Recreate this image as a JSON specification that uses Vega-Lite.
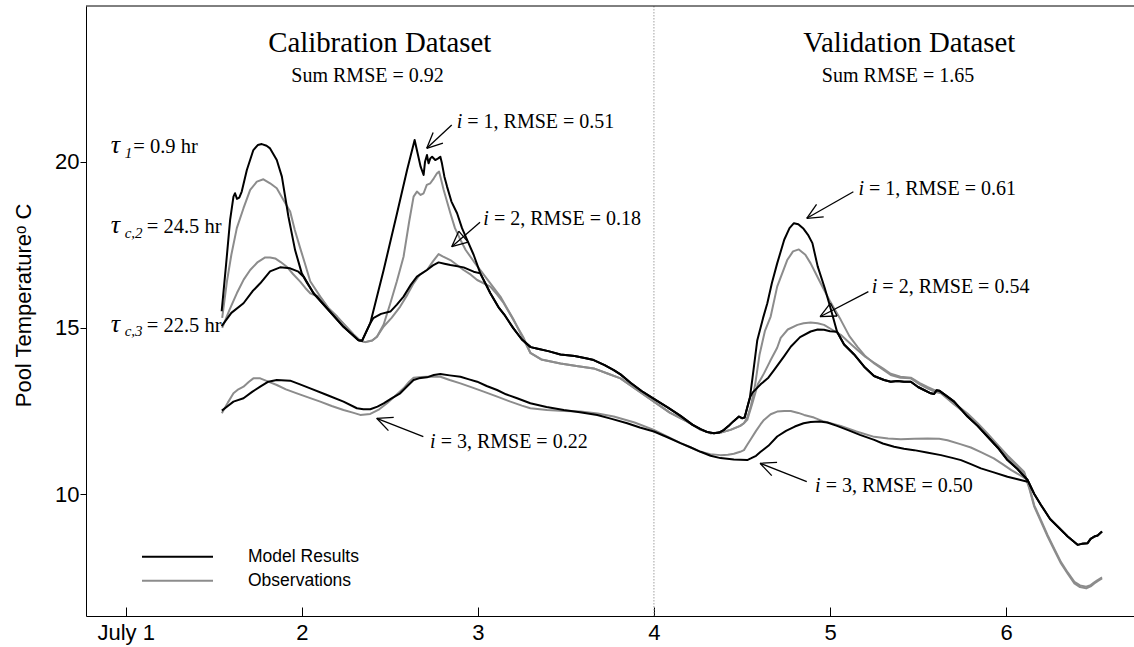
{
  "$schema": "https://vega.github.io/schema/vega-lite/v6.json",
  "width": 1048,
  "height": 610,
  "autosize": {"type": "none"},
  "padding": {"left": 86, "top": 6, "right": 0, "bottom": 31},
  "background": "white",
  "config": {"view": {"stroke": null}, "font": "Liberation Sans"},
  "datasets": {
    "model": [
      {"r":1,"d":1.545,"t":15.5},{"r":1,"d":1.57,"t":16.9},{"r":1,"d":1.593,"t":18.25},{"r":1,"d":1.612,"t":18.95},{"r":1,"d":1.621,"t":19.05},{"r":1,"d":1.632,"t":18.88},{"r":1,"d":1.645,"t":18.92},{"r":1,"d":1.659,"t":19.1},{"r":1,"d":1.688,"t":19.75},{"r":1,"d":1.725,"t":20.35},{"r":1,"d":1.75,"t":20.5},{"r":1,"d":1.773,"t":20.53},{"r":1,"d":1.8,"t":20.48},{"r":1,"d":1.82,"t":20.4},{"r":1,"d":1.858,"t":20.05},{"r":1,"d":1.887,"t":19.55},{"r":1,"d":1.924,"t":18.35},{"r":1,"d":1.962,"t":17.34},{"r":1,"d":2.0,"t":16.64},{"r":1,"d":2.067,"t":16.04},{"r":1,"d":2.143,"t":15.59},{"r":1,"d":2.237,"t":15.03},{"r":1,"d":2.322,"t":14.63},{"r":1,"d":2.342,"t":14.61},{"r":1,"d":2.389,"t":15.14},{"r":1,"d":2.465,"t":16.74},{"r":1,"d":2.541,"t":18.45},{"r":1,"d":2.598,"t":19.75},{"r":1,"d":2.641,"t":20.65},{"r":1,"d":2.66,"t":20.2},{"r":1,"d":2.675,"t":19.85},{"r":1,"d":2.692,"t":19.6},{"r":1,"d":2.7,"t":20.0},{"r":1,"d":2.711,"t":20.2},{"r":1,"d":2.72,"t":19.95},{"r":1,"d":2.73,"t":20.1},{"r":1,"d":2.74,"t":20.15},{"r":1,"d":2.758,"t":20.05},{"r":1,"d":2.775,"t":20.1},{"r":1,"d":2.787,"t":20.15},{"r":1,"d":2.796,"t":19.95},{"r":1,"d":2.81,"t":19.55},{"r":1,"d":2.825,"t":19.25},{"r":1,"d":2.85,"t":18.8},{"r":1,"d":2.882,"t":18.45},{"r":1,"d":2.91,"t":18.0},{"r":1,"d":2.939,"t":17.65},{"r":1,"d":2.976,"t":17.2},{"r":1,"d":3.014,"t":16.64},{"r":1,"d":3.071,"t":16.04},{"r":1,"d":3.12,"t":15.6},{"r":1,"d":3.15,"t":15.4},{"r":1,"d":3.2,"t":15.0},{"r":1,"d":3.25,"t":14.65},{"r":1,"d":3.3,"t":14.42},{"r":1,"d":3.34,"t":14.37},{"r":1,"d":3.4,"t":14.3},{"r":1,"d":3.469,"t":14.2},{"r":1,"d":3.55,"t":14.15},{"r":1,"d":3.62,"t":14.08},{"r":1,"d":3.658,"t":14.03},{"r":1,"d":3.72,"t":13.88},{"r":1,"d":3.772,"t":13.73},{"r":1,"d":3.81,"t":13.6},{"r":1,"d":3.867,"t":13.35},{"r":1,"d":3.93,"t":13.1},{"r":1,"d":4.0,"t":12.86},{"r":1,"d":4.08,"t":12.6},{"r":1,"d":4.151,"t":12.35},{"r":1,"d":4.22,"t":12.08},{"r":1,"d":4.265,"t":11.95},{"r":1,"d":4.3,"t":11.87},{"r":1,"d":4.341,"t":11.83},{"r":1,"d":4.37,"t":11.85},{"r":1,"d":4.398,"t":11.93},{"r":1,"d":4.43,"t":12.08},{"r":1,"d":4.454,"t":12.2},{"r":1,"d":4.483,"t":12.33},{"r":1,"d":4.5,"t":12.28},{"r":1,"d":4.515,"t":12.3},{"r":1,"d":4.53,"t":12.6},{"r":1,"d":4.545,"t":12.9},{"r":1,"d":4.56,"t":13.5},{"r":1,"d":4.587,"t":14.63},{"r":1,"d":4.62,"t":15.3},{"r":1,"d":4.644,"t":15.74},{"r":1,"d":4.67,"t":16.35},{"r":1,"d":4.7,"t":16.94},{"r":1,"d":4.74,"t":17.65},{"r":1,"d":4.77,"t":18.0},{"r":1,"d":4.795,"t":18.15},{"r":1,"d":4.82,"t":18.12},{"r":1,"d":4.85,"t":17.98},{"r":1,"d":4.875,"t":17.8},{"r":1,"d":4.9,"t":17.55},{"r":1,"d":4.93,"t":16.85},{"r":1,"d":4.97,"t":16.2},{"r":1,"d":5.0,"t":15.65},{"r":1,"d":5.04,"t":14.88},{"r":1,"d":5.08,"t":14.5},{"r":1,"d":5.137,"t":14.2},{"r":1,"d":5.194,"t":13.83},{"r":1,"d":5.25,"t":13.55},{"r":1,"d":5.307,"t":13.43},{"r":1,"d":5.345,"t":13.38},{"r":1,"d":5.383,"t":13.4},{"r":1,"d":5.42,"t":13.38},{"r":1,"d":5.459,"t":13.38},{"r":1,"d":5.5,"t":13.22},{"r":1,"d":5.534,"t":13.13},{"r":1,"d":5.572,"t":13.03},{"r":1,"d":5.591,"t":13.01},{"r":1,"d":5.605,"t":13.12},{"r":1,"d":5.62,"t":13.11},{"r":1,"d":5.667,"t":12.93},{"r":1,"d":5.705,"t":12.78},{"r":1,"d":5.781,"t":12.33},{"r":1,"d":5.838,"t":12.05},{"r":1,"d":5.894,"t":11.73},{"r":1,"d":5.952,"t":11.4},{"r":1,"d":6.008,"t":11.02},{"r":1,"d":6.065,"t":10.75},{"r":1,"d":6.122,"t":10.42},{"r":1,"d":6.16,"t":10.0},{"r":1,"d":6.198,"t":9.67},{"r":1,"d":6.25,"t":9.25},{"r":1,"d":6.293,"t":9.02},{"r":1,"d":6.35,"t":8.72},{"r":1,"d":6.406,"t":8.47},{"r":1,"d":6.43,"t":8.5},{"r":1,"d":6.463,"t":8.52},{"r":1,"d":6.48,"t":8.65},{"r":1,"d":6.501,"t":8.72},{"r":1,"d":6.52,"t":8.75},{"r":1,"d":6.545,"t":8.87},

      {"r":2,"d":1.545,"t":15.05},{"r":2,"d":1.6,"t":15.45},{"r":2,"d":1.669,"t":15.74},{"r":2,"d":1.72,"t":16.1},{"r":2,"d":1.764,"t":16.34},{"r":2,"d":1.82,"t":16.7},{"r":2,"d":1.877,"t":16.82},{"r":2,"d":1.934,"t":16.79},{"r":2,"d":1.981,"t":16.69},{"r":2,"d":2.01,"t":16.54},{"r":2,"d":2.03,"t":16.35},{"r":2,"d":2.067,"t":16.04},{"r":2,"d":2.143,"t":15.59},{"r":2,"d":2.237,"t":15.03},{"r":2,"d":2.322,"t":14.63},{"r":2,"d":2.342,"t":14.61},{"r":2,"d":2.389,"t":15.14},{"r":2,"d":2.406,"t":15.29},{"r":2,"d":2.45,"t":15.42},{"r":2,"d":2.503,"t":15.49},{"r":2,"d":2.54,"t":15.7},{"r":2,"d":2.578,"t":15.94},{"r":2,"d":2.62,"t":16.3},{"r":2,"d":2.654,"t":16.54},{"r":2,"d":2.711,"t":16.74},{"r":2,"d":2.745,"t":16.88},{"r":2,"d":2.777,"t":16.97},{"r":2,"d":2.81,"t":16.93},{"r":2,"d":2.844,"t":16.89},{"r":2,"d":2.919,"t":16.82},{"r":2,"d":2.976,"t":16.69},{"r":2,"d":3.014,"t":16.64},{"r":2,"d":3.071,"t":16.04},{"r":2,"d":3.12,"t":15.6},{"r":2,"d":3.15,"t":15.4},{"r":2,"d":3.2,"t":15.0},{"r":2,"d":3.25,"t":14.65},{"r":2,"d":3.3,"t":14.42},{"r":2,"d":3.34,"t":14.37},{"r":2,"d":3.4,"t":14.3},{"r":2,"d":3.469,"t":14.2},{"r":2,"d":3.55,"t":14.15},{"r":2,"d":3.62,"t":14.08},{"r":2,"d":3.658,"t":14.03},{"r":2,"d":3.72,"t":13.88},{"r":2,"d":3.772,"t":13.73},{"r":2,"d":3.81,"t":13.6},{"r":2,"d":3.867,"t":13.35},{"r":2,"d":3.93,"t":13.1},{"r":2,"d":4.0,"t":12.86},{"r":2,"d":4.08,"t":12.6},{"r":2,"d":4.151,"t":12.35},{"r":2,"d":4.22,"t":12.08},{"r":2,"d":4.265,"t":11.95},{"r":2,"d":4.3,"t":11.87},{"r":2,"d":4.341,"t":11.83},{"r":2,"d":4.37,"t":11.85},{"r":2,"d":4.398,"t":11.93},{"r":2,"d":4.43,"t":12.08},{"r":2,"d":4.454,"t":12.2},{"r":2,"d":4.483,"t":12.33},{"r":2,"d":4.5,"t":12.28},{"r":2,"d":4.515,"t":12.3},{"r":2,"d":4.53,"t":12.6},{"r":2,"d":4.545,"t":12.9},{"r":2,"d":4.56,"t":13.05},{"r":2,"d":4.606,"t":13.3},{"r":2,"d":4.65,"t":13.5},{"r":2,"d":4.682,"t":13.73},{"r":2,"d":4.74,"t":14.15},{"r":2,"d":4.777,"t":14.43},{"r":2,"d":4.83,"t":14.72},{"r":2,"d":4.89,"t":14.89},{"r":2,"d":4.93,"t":14.95},{"r":2,"d":4.966,"t":14.94},{"r":2,"d":5.0,"t":14.9},{"r":2,"d":5.04,"t":14.88},{"r":2,"d":5.08,"t":14.5},{"r":2,"d":5.137,"t":14.2},{"r":2,"d":5.194,"t":13.83},{"r":2,"d":5.25,"t":13.55},{"r":2,"d":5.307,"t":13.43},{"r":2,"d":5.345,"t":13.38},{"r":2,"d":5.383,"t":13.4},{"r":2,"d":5.42,"t":13.38},{"r":2,"d":5.459,"t":13.38},{"r":2,"d":5.5,"t":13.22},{"r":2,"d":5.534,"t":13.13},{"r":2,"d":5.572,"t":13.03},{"r":2,"d":5.591,"t":13.01},{"r":2,"d":5.605,"t":13.12},{"r":2,"d":5.62,"t":13.11},{"r":2,"d":5.667,"t":12.93},{"r":2,"d":5.705,"t":12.78},{"r":2,"d":5.781,"t":12.33},{"r":2,"d":5.838,"t":12.05},{"r":2,"d":5.894,"t":11.73},{"r":2,"d":5.952,"t":11.4},{"r":2,"d":6.008,"t":11.02},{"r":2,"d":6.065,"t":10.75},{"r":2,"d":6.122,"t":10.42},{"r":2,"d":6.16,"t":10.0},{"r":2,"d":6.198,"t":9.67},{"r":2,"d":6.25,"t":9.25},{"r":2,"d":6.293,"t":9.02},{"r":2,"d":6.35,"t":8.72},{"r":2,"d":6.406,"t":8.47},{"r":2,"d":6.43,"t":8.5},{"r":2,"d":6.463,"t":8.52},{"r":2,"d":6.48,"t":8.65},{"r":2,"d":6.501,"t":8.72},{"r":2,"d":6.52,"t":8.75},{"r":2,"d":6.545,"t":8.87},

      {"r":3,"d":1.546,"t":12.51},{"r":3,"d":1.58,"t":12.65},{"r":3,"d":1.612,"t":12.78},{"r":3,"d":1.669,"t":12.88},{"r":3,"d":1.72,"t":13.08},{"r":3,"d":1.764,"t":13.23},{"r":3,"d":1.81,"t":13.38},{"r":3,"d":1.858,"t":13.43},{"r":3,"d":1.934,"t":13.41},{"r":3,"d":1.99,"t":13.3},{"r":3,"d":2.048,"t":13.18},{"r":3,"d":2.143,"t":12.98},{"r":3,"d":2.237,"t":12.78},{"r":3,"d":2.313,"t":12.58},{"r":3,"d":2.35,"t":12.55},{"r":3,"d":2.389,"t":12.55},{"r":3,"d":2.43,"t":12.63},{"r":3,"d":2.465,"t":12.73},{"r":3,"d":2.51,"t":12.88},{"r":3,"d":2.559,"t":13.03},{"r":3,"d":2.6,"t":13.25},{"r":3,"d":2.635,"t":13.43},{"r":3,"d":2.665,"t":13.48},{"r":3,"d":2.711,"t":13.51},{"r":3,"d":2.75,"t":13.58},{"r":3,"d":2.787,"t":13.61},{"r":3,"d":2.84,"t":13.57},{"r":3,"d":2.901,"t":13.53},{"r":3,"d":2.95,"t":13.45},{"r":3,"d":2.996,"t":13.38},{"r":3,"d":3.05,"t":13.25},{"r":3,"d":3.109,"t":13.13},{"r":3,"d":3.16,"t":13.0},{"r":3,"d":3.223,"t":12.88},{"r":3,"d":3.298,"t":12.73},{"r":3,"d":3.39,"t":12.62},{"r":3,"d":3.488,"t":12.53},{"r":3,"d":3.58,"t":12.46},{"r":3,"d":3.678,"t":12.38},{"r":3,"d":3.76,"t":12.26},{"r":3,"d":3.848,"t":12.13},{"r":3,"d":3.92,"t":12.0},{"r":3,"d":4.0,"t":11.88},{"r":3,"d":4.08,"t":11.7},{"r":3,"d":4.151,"t":11.53},{"r":3,"d":4.21,"t":11.4},{"r":3,"d":4.265,"t":11.27},{"r":3,"d":4.322,"t":11.15},{"r":3,"d":4.378,"t":11.08},{"r":3,"d":4.454,"t":11.04},{"r":3,"d":4.53,"t":11.02},{"r":3,"d":4.55,"t":11.07},{"r":3,"d":4.58,"t":11.15},{"r":3,"d":4.606,"t":11.27},{"r":3,"d":4.65,"t":11.45},{"r":3,"d":4.7,"t":11.73},{"r":3,"d":4.75,"t":11.9},{"r":3,"d":4.8,"t":12.03},{"r":3,"d":4.85,"t":12.13},{"r":3,"d":4.89,"t":12.17},{"r":3,"d":4.94,"t":12.18},{"r":3,"d":4.985,"t":12.15},{"r":3,"d":5.04,"t":12.05},{"r":3,"d":5.099,"t":11.93},{"r":3,"d":5.17,"t":11.78},{"r":3,"d":5.251,"t":11.63},{"r":3,"d":5.3,"t":11.52},{"r":3,"d":5.364,"t":11.42},{"r":3,"d":5.42,"t":11.36},{"r":3,"d":5.478,"t":11.32},{"r":3,"d":5.55,"t":11.25},{"r":3,"d":5.63,"t":11.17},{"r":3,"d":5.7,"t":11.08},{"r":3,"d":5.744,"t":11.02},{"r":3,"d":5.8,"t":10.9},{"r":3,"d":5.857,"t":10.77},{"r":3,"d":5.93,"t":10.65},{"r":3,"d":6.008,"t":10.52},{"r":3,"d":6.06,"t":10.45},{"r":3,"d":6.122,"t":10.37}
    ],
    "obs": [
      {"r":1,"d":1.548,"t":15.3},{"r":1,"d":1.575,"t":16.4},{"r":1,"d":1.6,"t":17.2},{"r":1,"d":1.631,"t":18.0},{"r":1,"d":1.669,"t":18.6},{"r":1,"d":1.707,"t":19.15},{"r":1,"d":1.745,"t":19.4},{"r":1,"d":1.782,"t":19.47},{"r":1,"d":1.82,"t":19.35},{"r":1,"d":1.858,"t":19.2},{"r":1,"d":1.896,"t":18.85},{"r":1,"d":1.934,"t":18.5},{"r":1,"d":1.96,"t":17.95},{"r":1,"d":1.991,"t":17.4},{"r":1,"d":2.02,"t":16.9},{"r":1,"d":2.048,"t":16.4},{"r":1,"d":2.105,"t":15.94},{"r":1,"d":2.15,"t":15.6},{"r":1,"d":2.2,"t":15.34},{"r":1,"d":2.25,"t":15.05},{"r":1,"d":2.294,"t":14.8},{"r":1,"d":2.33,"t":14.62},{"r":1,"d":2.36,"t":14.57},{"r":1,"d":2.4,"t":14.62},{"r":1,"d":2.427,"t":14.73},{"r":1,"d":2.465,"t":15.1},{"r":1,"d":2.503,"t":15.74},{"r":1,"d":2.54,"t":16.4},{"r":1,"d":2.578,"t":17.14},{"r":1,"d":2.61,"t":18.2},{"r":1,"d":2.635,"t":18.95},{"r":1,"d":2.654,"t":19.1},{"r":1,"d":2.675,"t":19.0},{"r":1,"d":2.692,"t":19.05},{"r":1,"d":2.71,"t":19.3},{"r":1,"d":2.73,"t":19.35},{"r":1,"d":2.75,"t":19.5},{"r":1,"d":2.768,"t":19.65},{"r":1,"d":2.78,"t":19.7},{"r":1,"d":2.792,"t":19.45},{"r":1,"d":2.806,"t":19.15},{"r":1,"d":2.844,"t":18.45},{"r":1,"d":2.87,"t":18.0},{"r":1,"d":2.901,"t":17.65},{"r":1,"d":2.93,"t":17.35},{"r":1,"d":2.958,"t":17.14},{"r":1,"d":2.99,"t":16.9},{"r":1,"d":3.014,"t":16.74},{"r":1,"d":3.071,"t":16.34},{"r":1,"d":3.128,"t":15.94},{"r":1,"d":3.17,"t":15.55},{"r":1,"d":3.204,"t":15.24},{"r":1,"d":3.25,"t":14.75},{"r":1,"d":3.298,"t":14.25},{"r":1,"d":3.36,"t":14.05},{"r":1,"d":3.469,"t":13.93},{"r":1,"d":3.56,"t":13.85},{"r":1,"d":3.658,"t":13.78},{"r":1,"d":3.74,"t":13.62},{"r":1,"d":3.81,"t":13.48},{"r":1,"d":3.9,"t":13.15},{"r":1,"d":4.0,"t":12.78},{"r":1,"d":4.09,"t":12.45},{"r":1,"d":4.189,"t":12.18},{"r":1,"d":4.26,"t":11.95},{"r":1,"d":4.322,"t":11.83},{"r":1,"d":4.38,"t":11.85},{"r":1,"d":4.435,"t":11.93},{"r":1,"d":4.49,"t":12.05},{"r":1,"d":4.511,"t":12.13},{"r":1,"d":4.53,"t":12.3},{"r":1,"d":4.55,"t":12.63},{"r":1,"d":4.575,"t":13.3},{"r":1,"d":4.6,"t":14.2},{"r":1,"d":4.63,"t":14.9},{"r":1,"d":4.663,"t":15.34},{"r":1,"d":4.7,"t":16.24},{"r":1,"d":4.757,"t":17.04},{"r":1,"d":4.79,"t":17.3},{"r":1,"d":4.823,"t":17.36},{"r":1,"d":4.86,"t":17.2},{"r":1,"d":4.89,"t":16.94},{"r":1,"d":4.947,"t":16.34},{"r":1,"d":5.0,"t":15.8},{"r":1,"d":5.061,"t":15.24},{"r":1,"d":5.11,"t":14.75},{"r":1,"d":5.156,"t":14.43},{"r":1,"d":5.2,"t":14.15},{"r":1,"d":5.251,"t":13.93},{"r":1,"d":5.3,"t":13.75},{"r":1,"d":5.345,"t":13.58},{"r":1,"d":5.4,"t":13.5},{"r":1,"d":5.459,"t":13.48},{"r":1,"d":5.51,"t":13.3},{"r":1,"d":5.553,"t":13.18},{"r":1,"d":5.6,"t":13.07},{"r":1,"d":5.63,"t":13.03},{"r":1,"d":5.7,"t":12.72},{"r":1,"d":5.781,"t":12.38},{"r":1,"d":5.84,"t":12.08},{"r":1,"d":5.894,"t":11.78},{"r":1,"d":5.95,"t":11.45},{"r":1,"d":6.008,"t":11.12},{"r":1,"d":6.06,"t":10.85},{"r":1,"d":6.103,"t":10.62},{"r":1,"d":6.13,"t":10.2},{"r":1,"d":6.16,"t":9.62},{"r":1,"d":6.2,"t":9.15},{"r":1,"d":6.236,"t":8.72},{"r":1,"d":6.275,"t":8.3},{"r":1,"d":6.312,"t":7.91},{"r":1,"d":6.35,"t":7.6},{"r":1,"d":6.388,"t":7.31},{"r":1,"d":6.42,"t":7.2},{"r":1,"d":6.455,"t":7.16},{"r":1,"d":6.48,"t":7.22},{"r":1,"d":6.501,"t":7.31},{"r":1,"d":6.52,"t":7.38},{"r":1,"d":6.545,"t":7.46},

      {"r":2,"d":1.548,"t":15.0},{"r":2,"d":1.59,"t":15.55},{"r":2,"d":1.631,"t":16.04},{"r":2,"d":1.67,"t":16.45},{"r":2,"d":1.707,"t":16.74},{"r":2,"d":1.75,"t":16.98},{"r":2,"d":1.792,"t":17.12},{"r":2,"d":1.82,"t":17.12},{"r":2,"d":1.849,"t":17.09},{"r":2,"d":1.88,"t":16.98},{"r":2,"d":1.915,"t":16.84},{"r":2,"d":1.95,"t":16.62},{"r":2,"d":1.991,"t":16.39},{"r":2,"d":2.02,"t":16.2},{"r":2,"d":2.048,"t":16.04},{"r":2,"d":2.075,"t":15.98},{"r":2,"d":2.105,"t":15.92},{"r":2,"d":2.15,"t":15.6},{"r":2,"d":2.2,"t":15.34},{"r":2,"d":2.25,"t":15.05},{"r":2,"d":2.294,"t":14.8},{"r":2,"d":2.33,"t":14.62},{"r":2,"d":2.36,"t":14.57},{"r":2,"d":2.4,"t":14.62},{"r":2,"d":2.427,"t":14.73},{"r":2,"d":2.465,"t":15.04},{"r":2,"d":2.51,"t":15.3},{"r":2,"d":2.559,"t":15.64},{"r":2,"d":2.6,"t":16.0},{"r":2,"d":2.635,"t":16.34},{"r":2,"d":2.67,"t":16.6},{"r":2,"d":2.711,"t":16.74},{"r":2,"d":2.745,"t":17.0},{"r":2,"d":2.777,"t":17.22},{"r":2,"d":2.8,"t":17.15},{"r":2,"d":2.844,"t":17.04},{"r":2,"d":2.88,"t":16.9},{"r":2,"d":2.919,"t":16.74},{"r":2,"d":2.96,"t":16.6},{"r":2,"d":2.996,"t":16.44},{"r":2,"d":3.03,"t":16.35},{"r":2,"d":3.071,"t":16.24},{"r":2,"d":3.11,"t":16.0},{"r":2,"d":3.147,"t":15.74},{"r":2,"d":3.19,"t":15.35},{"r":2,"d":3.223,"t":15.04},{"r":2,"d":3.26,"t":14.7},{"r":2,"d":3.298,"t":14.25},{"r":2,"d":3.36,"t":14.05},{"r":2,"d":3.469,"t":13.93},{"r":2,"d":3.56,"t":13.85},{"r":2,"d":3.658,"t":13.78},{"r":2,"d":3.74,"t":13.62},{"r":2,"d":3.81,"t":13.48},{"r":2,"d":3.9,"t":13.15},{"r":2,"d":4.0,"t":12.78},{"r":2,"d":4.09,"t":12.45},{"r":2,"d":4.189,"t":12.18},{"r":2,"d":4.26,"t":11.95},{"r":2,"d":4.322,"t":11.83},{"r":2,"d":4.38,"t":11.85},{"r":2,"d":4.435,"t":11.93},{"r":2,"d":4.49,"t":12.05},{"r":2,"d":4.511,"t":12.13},{"r":2,"d":4.53,"t":12.23},{"r":2,"d":4.56,"t":12.75},{"r":2,"d":4.59,"t":13.3},{"r":2,"d":4.625,"t":13.63},{"r":2,"d":4.66,"t":14.0},{"r":2,"d":4.7,"t":14.4},{"r":2,"d":4.72,"t":14.7},{"r":2,"d":4.76,"t":14.95},{"r":2,"d":4.815,"t":15.09},{"r":2,"d":4.85,"t":15.14},{"r":2,"d":4.89,"t":15.16},{"r":2,"d":4.93,"t":15.14},{"r":2,"d":4.966,"t":15.09},{"r":2,"d":5.01,"t":14.95},{"r":2,"d":5.061,"t":14.79},{"r":2,"d":5.11,"t":14.55},{"r":2,"d":5.156,"t":14.33},{"r":2,"d":5.2,"t":14.13},{"r":2,"d":5.251,"t":13.95},{"r":2,"d":5.3,"t":13.78},{"r":2,"d":5.345,"t":13.62},{"r":2,"d":5.4,"t":13.53},{"r":2,"d":5.459,"t":13.5},{"r":2,"d":5.51,"t":13.34},{"r":2,"d":5.553,"t":13.22},{"r":2,"d":5.6,"t":13.11},{"r":2,"d":5.63,"t":13.07},{"r":2,"d":5.7,"t":12.76},{"r":2,"d":5.781,"t":12.42},{"r":2,"d":5.84,"t":12.12},{"r":2,"d":5.894,"t":11.82},{"r":2,"d":5.95,"t":11.49},{"r":2,"d":6.008,"t":11.16},{"r":2,"d":6.06,"t":10.89},{"r":2,"d":6.103,"t":10.66},{"r":2,"d":6.13,"t":10.24},{"r":2,"d":6.16,"t":9.66},{"r":2,"d":6.2,"t":9.19},{"r":2,"d":6.236,"t":8.76},{"r":2,"d":6.275,"t":8.34},{"r":2,"d":6.312,"t":7.95},{"r":2,"d":6.35,"t":7.64},{"r":2,"d":6.388,"t":7.36},{"r":2,"d":6.42,"t":7.25},{"r":2,"d":6.455,"t":7.21},{"r":2,"d":6.48,"t":7.26},{"r":2,"d":6.501,"t":7.34},{"r":2,"d":6.52,"t":7.41},{"r":2,"d":6.545,"t":7.49},

      {"r":3,"d":1.546,"t":12.43},{"r":3,"d":1.58,"t":12.75},{"r":3,"d":1.612,"t":13.03},{"r":3,"d":1.64,"t":13.15},{"r":3,"d":1.669,"t":13.23},{"r":3,"d":1.7,"t":13.38},{"r":3,"d":1.725,"t":13.48},{"r":3,"d":1.764,"t":13.48},{"r":3,"d":1.81,"t":13.38},{"r":3,"d":1.858,"t":13.28},{"r":3,"d":1.91,"t":13.15},{"r":3,"d":1.972,"t":13.03},{"r":3,"d":2.04,"t":12.9},{"r":3,"d":2.105,"t":12.78},{"r":3,"d":2.17,"t":12.65},{"r":3,"d":2.237,"t":12.53},{"r":3,"d":2.29,"t":12.45},{"r":3,"d":2.332,"t":12.38},{"r":3,"d":2.389,"t":12.41},{"r":3,"d":2.44,"t":12.55},{"r":3,"d":2.484,"t":12.73},{"r":3,"d":2.53,"t":12.95},{"r":3,"d":2.578,"t":13.18},{"r":3,"d":2.61,"t":13.38},{"r":3,"d":2.635,"t":13.5},{"r":3,"d":2.68,"t":13.52},{"r":3,"d":2.711,"t":13.53},{"r":3,"d":2.75,"t":13.53},{"r":3,"d":2.787,"t":13.53},{"r":3,"d":2.84,"t":13.43},{"r":3,"d":2.901,"t":13.33},{"r":3,"d":2.97,"t":13.2},{"r":3,"d":3.033,"t":13.08},{"r":3,"d":3.11,"t":12.93},{"r":3,"d":3.185,"t":12.78},{"r":3,"d":3.25,"t":12.66},{"r":3,"d":3.298,"t":12.58},{"r":3,"d":3.393,"t":12.53},{"r":3,"d":3.49,"t":12.5},{"r":3,"d":3.583,"t":12.48},{"r":3,"d":3.68,"t":12.42},{"r":3,"d":3.772,"t":12.33},{"r":3,"d":3.89,"t":12.15},{"r":3,"d":4.0,"t":11.93},{"r":3,"d":4.08,"t":11.72},{"r":3,"d":4.151,"t":11.53},{"r":3,"d":4.21,"t":11.4},{"r":3,"d":4.265,"t":11.27},{"r":3,"d":4.32,"t":11.2},{"r":3,"d":4.378,"t":11.17},{"r":3,"d":4.42,"t":11.18},{"r":3,"d":4.454,"t":11.21},{"r":3,"d":4.49,"t":11.27},{"r":3,"d":4.511,"t":11.32},{"r":3,"d":4.53,"t":11.48},{"r":3,"d":4.55,"t":11.65},{"r":3,"d":4.58,"t":11.9},{"r":3,"d":4.606,"t":12.1},{"r":3,"d":4.625,"t":12.23},{"r":3,"d":4.663,"t":12.4},{"r":3,"d":4.7,"t":12.48},{"r":3,"d":4.74,"t":12.5},{"r":3,"d":4.777,"t":12.5},{"r":3,"d":4.82,"t":12.44},{"r":3,"d":4.853,"t":12.38},{"r":3,"d":4.909,"t":12.3},{"r":3,"d":4.966,"t":12.18},{"r":3,"d":5.061,"t":12.05},{"r":3,"d":5.15,"t":11.88},{"r":3,"d":5.251,"t":11.72},{"r":3,"d":5.33,"t":11.67},{"r":3,"d":5.402,"t":11.65},{"r":3,"d":5.48,"t":11.66},{"r":3,"d":5.553,"t":11.67},{"r":3,"d":5.62,"t":11.66},{"r":3,"d":5.667,"t":11.62},{"r":3,"d":5.74,"t":11.5},{"r":3,"d":5.8,"t":11.4},{"r":3,"d":5.86,"t":11.25},{"r":3,"d":5.93,"t":11.07},{"r":3,"d":5.98,"t":10.9},{"r":3,"d":6.03,"t":10.72},{"r":3,"d":6.084,"t":10.55},{"r":3,"d":6.115,"t":10.45}
    ],
    "arrows": [
      {"d":2.8516,"t":21.104,"d2":2.7097,"t2":20.403},{"d":2.7097,"t":20.403,"d2":2.8017,"t2":20.56},{"d":2.7097,"t":20.403,"d2":2.746,"t2":20.876},
      {"d":3.0124,"t":18.176,"d2":2.8516,"t2":17.442},{"d":2.8516,"t":17.442,"d2":2.9448,"t2":17.581},{"d":2.8516,"t":17.442,"d2":2.8914,"t2":17.909},{"d":2.9448,"t":17.581,"d2":2.8914,"t2":17.909},
      {"d":2.6903,"t":11.724,"d2":2.4256,"t2":12.278},{"d":2.4256,"t":12.278,"d2":2.4921,"t2":11.908},{"d":2.4256,"t":12.278,"d2":2.5222,"t2":12.308},
      {"d":5.1327,"t":19.097,"d2":4.868,"t2":18.297},{"d":4.868,"t":18.297,"d2":4.964,"t2":18.339},{"d":4.868,"t":18.297,"d2":4.9236,"t2":18.715},
      {"d":5.2179,"t":16.088,"d2":4.9435,"t2":15.335},{"d":4.9435,"t":15.335,"d2":5.0401,"t2":15.357},{"d":4.9435,"t":15.335,"d2":5.0026,"t2":15.742},{"d":5.0401,"t":15.357,"d2":5.0026,"t2":15.742},
      {"d":4.868,"t":10.37,"d2":4.6027,"t2":10.924},{"d":4.6027,"t":10.924,"d2":4.6692,"t2":10.554},{"d":4.6027,"t":10.924,"d2":4.6993,"t2":10.954}
    ],
    "heads": [
      {"d":2.4427,"t":23.31,"text":"Calibration Dataset"},
      {"d":5.4502,"t":23.31,"text":"Validation Dataset"}
    ],
    "sums": [
      {"d":2.3734,"t":22.383,"text":"Sum RMSE = 0.92"},
      {"d":5.3865,"t":22.383,"text":"Sum RMSE = 1.65"}
    ],
    "notes": [
      {"d":2.9119,"t":21.005,"rest":"= 1, RMSE = 0.51"},
      {"d":3.0629,"t":18.095,"rest":"= 2, RMSE = 0.18"},
      {"d":2.7602,"t":11.375,"rest":"= 3, RMSE = 0.22"},
      {"d":5.1929,"t":18.998,"rest":"= 1, RMSE = 0.61"},
      {"d":5.269,"t":16.04,"rest":"= 2, RMSE = 0.54"},
      {"d":4.947,"t":10.069,"rest":"= 3, RMSE = 0.50"}
    ],
    "taus": [
      {"d":0.8921,"t":20.253,"rd":1.0432,"sub":"1","rest":"= 0.9 hr"},
      {"d":0.8921,"t":17.845,"rd":1.1193,"sub":"c,2","rest":"= 24.5 hr"},
      {"d":0.8921,"t":14.884,"rd":1.1193,"sub":"c,3","rest":"= 22.5 hr"}
    ]
  },
  "layer": [
    {
      "data": {"values": [{}]},
      "mark": {"type": "rule", "color": "#a0a0a0", "strokeDash": [1.5, 1.5], "strokeWidth": 1},
      "encoding": {
        "x": {"datum": 4, "type": "quantitative", "scale": {"domain": [0.7745, 6.7265], "nice": false, "zero": false}}
      }
    },
    {
      "data": {"values": [{}]},
      "mark": {"type": "rule", "color": "black", "strokeWidth": 1},
      "encoding": {
        "y": {"datum": 24.685, "type": "quantitative", "scale": {"domain": [6.329, 24.685], "nice": false, "zero": false}}
      }
    },
    {
      "data": {"name": "obs"},
      "mark": {"type": "line", "strokeWidth": 2, "strokeJoin": "round"},
      "encoding": {
        "x": {"field": "d", "type": "quantitative", "scale": {"domain": [0.7745, 6.7265], "nice": false, "zero": false},
          "axis": {"values": [1, 2, 3, 4, 5, 6], "format": "d", "labelExpr": "datum.value == 1 ? 'July 1' : datum.label", "title": null, "grid": false,
            "domainColor": "black", "domainWidth": 1, "tickColor": "black", "tickWidth": 1, "tickSize": -9,
            "labelFont": "Liberation Sans", "labelFontSize": 22, "labelColor": "black", "labelPadding": 15, "labelFlush": false, "labelOverlap": false}},
        "y": {"field": "t", "type": "quantitative", "scale": {"domain": [6.329, 24.685], "nice": false, "zero": false},
          "axis": {"values": [10, 15, 20], "format": "d", "title": "Pool Temperatureᵒ C", "grid": false,
            "domainColor": "black", "domainWidth": 1, "tickColor": "black", "tickWidth": 1, "tickSize": 6,
            "labelFont": "Liberation Sans", "labelFontSize": 22, "labelColor": "black", "labelPadding": 1,
            "titleFont": "Liberation Sans", "titleFontSize": 22, "titleFontWeight": "normal", "titleColor": "black",
            "titleX": -56, "titleY": 299, "titleAngle": 270, "titleBaseline": "alphabetic", "titleAlign": "center"}},
        "detail": {"field": "r"},
        "color": {"datum": "Observations",
          "scale": {"domain": ["Model Results", "Observations"], "range": ["#000000", "#8c8c8c"]},
          "legend": {"orient": "none", "legendX": 55, "legendY": 538.7, "title": null, "symbolType": "stroke", "symbolSize": 5041,
            "symbolStrokeWidth": 2, "clipHeight": 24, "rowPadding": 0, "labelOffset": 34, "padding": 0,
            "labelFont": "Liberation Sans", "labelFontSize": 17.5, "labelColor": "black"}}
      }
    },
    {
      "data": {"name": "model"},
      "mark": {"type": "line", "strokeWidth": 2, "strokeJoin": "round"},
      "encoding": {
        "x": {"field": "d", "type": "quantitative", "scale": {"domain": [0.7745, 6.7265], "nice": false, "zero": false}},
        "y": {"field": "t", "type": "quantitative", "scale": {"domain": [6.329, 24.685], "nice": false, "zero": false}},
        "detail": {"field": "r"},
        "color": {"datum": "Model Results"}
      }
    },
    {
      "data": {"name": "arrows"},
      "mark": {"type": "rule", "color": "black", "strokeWidth": 1.3},
      "encoding": {
        "x": {"field": "d", "type": "quantitative", "scale": {"domain": [0.7745, 6.7265], "nice": false, "zero": false}},
        "y": {"field": "t", "type": "quantitative", "scale": {"domain": [6.329, 24.685], "nice": false, "zero": false}},
        "x2": {"field": "d2"},
        "y2": {"field": "t2"}
      }
    },
    {
      "data": {"name": "heads"},
      "mark": {"type": "text", "font": "Liberation Serif", "fontSize": 28.8, "align": "center", "baseline": "alphabetic", "color": "black"},
      "encoding": {
        "x": {"field": "d", "type": "quantitative", "scale": {"domain": [0.7745, 6.7265], "nice": false, "zero": false}},
        "y": {"field": "t", "type": "quantitative", "scale": {"domain": [6.329, 24.685], "nice": false, "zero": false}},
        "text": {"field": "text"}
      }
    },
    {
      "data": {"name": "sums"},
      "mark": {"type": "text", "font": "Liberation Serif", "fontSize": 20, "align": "center", "baseline": "alphabetic", "color": "black"},
      "encoding": {
        "x": {"field": "d", "type": "quantitative", "scale": {"domain": [0.7745, 6.7265], "nice": false, "zero": false}},
        "y": {"field": "t", "type": "quantitative", "scale": {"domain": [6.329, 24.685], "nice": false, "zero": false}},
        "text": {"field": "text"}
      }
    },
    {
      "data": {"name": "notes"},
      "mark": {"type": "text", "font": "Liberation Serif", "fontSize": 20, "fontStyle": "italic", "align": "right", "baseline": "alphabetic", "color": "black", "text": "i"},
      "encoding": {
        "x": {"field": "d", "type": "quantitative", "scale": {"domain": [0.7745, 6.7265], "nice": false, "zero": false}},
        "y": {"field": "t", "type": "quantitative", "scale": {"domain": [6.329, 24.685], "nice": false, "zero": false}}
      }
    },
    {
      "data": {"name": "notes"},
      "mark": {"type": "text", "font": "Liberation Serif", "fontSize": 20, "align": "left", "baseline": "alphabetic", "color": "black", "dx": 5},
      "encoding": {
        "x": {"field": "d", "type": "quantitative", "scale": {"domain": [0.7745, 6.7265], "nice": false, "zero": false}},
        "y": {"field": "t", "type": "quantitative", "scale": {"domain": [6.329, 24.685], "nice": false, "zero": false}},
        "text": {"field": "rest"}
      }
    },
    {
      "data": {"name": "taus"},
      "mark": {"type": "text", "font": "Liberation Serif", "fontSize": 26, "fontStyle": "italic", "align": "left", "baseline": "alphabetic", "color": "black", "text": "τ", "dx": 4},
      "encoding": {
        "x": {"field": "d", "type": "quantitative", "scale": {"domain": [0.7745, 6.7265], "nice": false, "zero": false}},
        "y": {"field": "t", "type": "quantitative", "scale": {"domain": [6.329, 24.685], "nice": false, "zero": false}}
      }
    },
    {
      "data": {"name": "taus"},
      "mark": {"type": "text", "font": "Liberation Serif", "fontSize": 15, "fontStyle": "italic", "align": "left", "baseline": "alphabetic", "color": "black", "dx": 18, "dy": 4.5},
      "encoding": {
        "x": {"field": "d", "type": "quantitative", "scale": {"domain": [0.7745, 6.7265], "nice": false, "zero": false}},
        "y": {"field": "t", "type": "quantitative", "scale": {"domain": [6.329, 24.685], "nice": false, "zero": false}},
        "text": {"field": "sub"}
      }
    },
    {
      "data": {"name": "taus"},
      "mark": {"type": "text", "font": "Liberation Serif", "fontSize": 20.5, "align": "left", "baseline": "alphabetic", "color": "black"},
      "encoding": {
        "x": {"field": "rd", "type": "quantitative", "scale": {"domain": [0.7745, 6.7265], "nice": false, "zero": false}},
        "y": {"field": "t", "type": "quantitative", "scale": {"domain": [6.329, 24.685], "nice": false, "zero": false}},
        "text": {"field": "rest"}
      }
    }
  ]
}
